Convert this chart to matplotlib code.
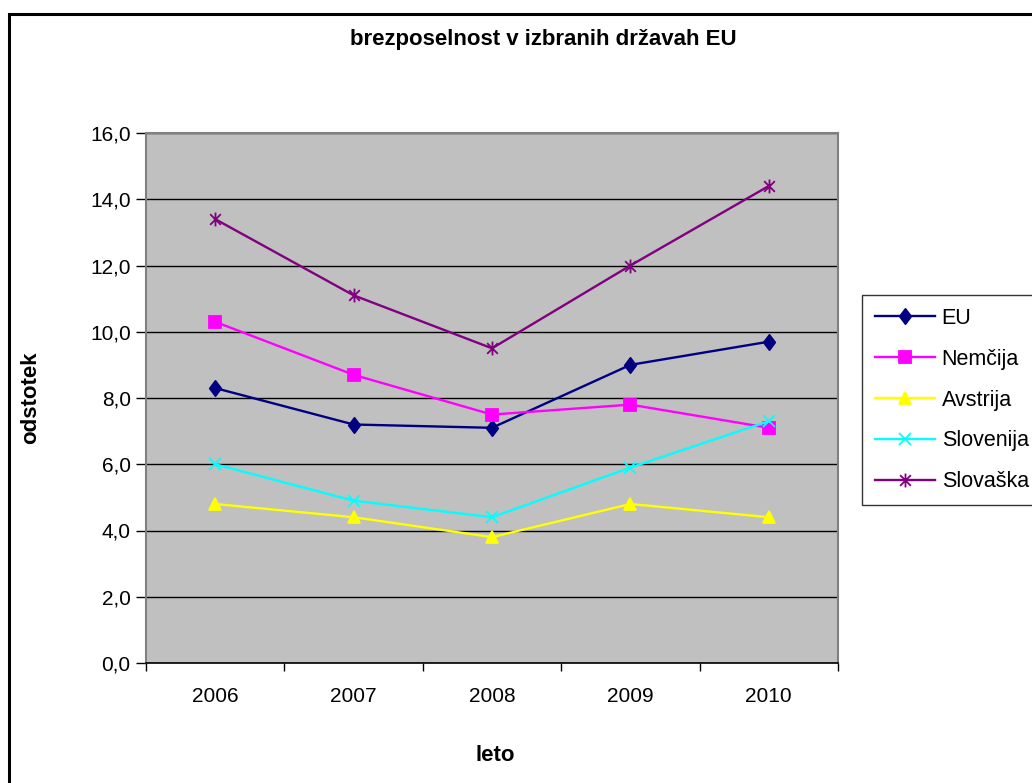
import numpy as np
import matplotlib.pyplot as plt
from matplotlib.patches import Rectangle
from matplotlib.path import Path

plt.rcParams['font.family'] = ['Liberation Sans', 'DejaVu Sans']

years = ['2006', '2007', '2008', '2009', '2010']
eu = [8.3, 7.2, 7.1, 9.0, 9.7]
nemcija = [10.3, 8.7, 7.5, 7.8, 7.1]
avstrija = [4.8, 4.4, 3.8, 4.8, 4.4]
slovenija = [6.0, 4.9, 4.4, 5.9, 7.3]
slovaska = [13.4, 11.1, 9.5, 12.0, 14.4]

# asterisk: an x with a vertical stroke through it
star = Path([(-1, -1), (1, 1), (-1, 1), (1, -1), (0, -1.3), (0, 1.3)],
            [Path.MOVETO, Path.LINETO, Path.MOVETO, Path.LINETO,
             Path.MOVETO, Path.LINETO])
# slightly tall diamond
diamond = Path([(0, 1), (0.75, 0), (0, -1), (-0.75, 0), (0, 1)],
               [Path.MOVETO, Path.LINETO, Path.LINETO, Path.LINETO, Path.CLOSEPOLY])

series = [
    ('EU', eu, '#000080', diamond, 11),
    ('Nemčija', nemcija, '#FF00FF', 's', 8),
    ('Avstrija', avstrija, '#FFFF00', '^', 9),
    ('Slovenija', slovenija, '#00FFFF', 'x', 9),
    ('Slovaška', slovaska, '#800080', star, 10),
]

fig = plt.figure(figsize=(10.32, 7.83), dpi=100)
fig.patches.append(Rectangle((9 / 1032, -0.05), 1.1, 1 - 14 / 783 + 0.05,
                             transform=fig.transFigure, fill=False,
                             edgecolor='black', linewidth=2.2, zorder=0))

ax = fig.add_axes([146 / 1032, 1 - 663 / 783, 692 / 1032, 530 / 783])
ax.set_facecolor('#C0C0C0')

x = np.arange(len(years))
for name, vals, col, mk, ms in series:
    ax.plot(x, vals, color=col, marker=mk, markersize=ms, linewidth=1.7,
            markeredgewidth=1.3, label=name, clip_on=False)

ax.set_xlim(-0.5, 4.5)
ax.set_ylim(0, 16)
ax.set_yticks(np.arange(0, 17, 2))
ax.yaxis.set_major_formatter(plt.FuncFormatter(lambda v, p: ('%.1f' % v).replace('.', ',')))
ax.grid(axis='y', color='black', linewidth=1.0)
ax.set_axisbelow(True)

ax.set_xticks(np.arange(-0.5, 5, 1))
ax.set_xticklabels([])
ax.set_xticks(x, minor=True)
ax.set_xticklabels(years, minor=True)
ax.tick_params(axis='x', which='minor', length=0, pad=17, labelsize=15)
ax.tick_params(axis='x', which='major', length=6, width=1, direction='out')
ax.tick_params(axis='y', length=7, width=1, labelsize=15, pad=4)

for side in ['left', 'top', 'right']:
    ax.spines[side].set_color('#808080')
    ax.spines[side].set_linewidth(1.5)
ax.spines['bottom'].set_color('black')
ax.spines['bottom'].set_linewidth(1.2)

ax.set_ylabel('odstotek', fontsize=16, fontweight='bold', labelpad=0)
ax.yaxis.set_label_coords(-0.152, 0.5)
ax.set_xlabel('leto', fontsize=16, fontweight='bold')
ax.xaxis.set_label_coords(0.505, -0.155)
fig.text(543 / 1032, 1 - 40 / 783, 'brezposelnost v izbranih državah EU',
         ha='center', va='center', fontsize=16, fontweight='bold')

leg = fig.legend(loc='upper left', bbox_to_anchor=(862 / 1032, 1 - 295 / 783),
                 frameon=True, fancybox=False, fontsize=15.5, handlelength=2.8,
                 handletextpad=0.3, labelspacing=0.92, borderpad=0.6,
                 borderaxespad=0)
leg.get_frame().set_edgecolor('black')
leg.get_frame().set_linewidth(1.0)

fig.savefig('out.png', dpi=100)
